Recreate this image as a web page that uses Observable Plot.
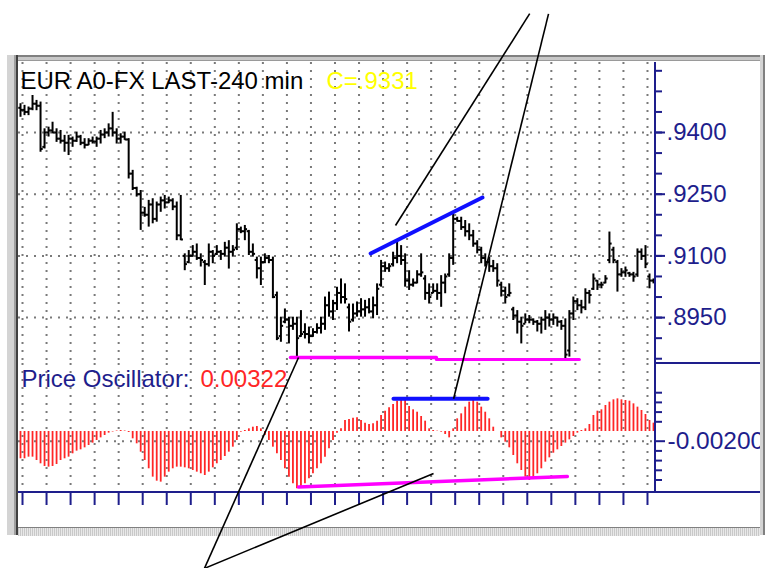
<!DOCTYPE html>
<html><head><meta charset="utf-8">
<script src="https://cdn.jsdelivr.net/npm/d3@7"></script>
<script src="https://cdn.jsdelivr.net/npm/@observablehq/plot@0.6"></script>
<style>
html,body{margin:0;padding:0;background:#fff;overflow:hidden;}
#wrap{position:relative;width:765px;height:568px;overflow:hidden;font-family:"Liberation Sans",Arial,sans-serif;}
.chrome{position:absolute;}
</style></head>
<body><div id="wrap"></div>
<script>
// ---------------- data ----------------
const high = [
.9470,.9466,.9462,.9490,.9478,.9474,.9409,.9413,.9425,.9409,
.9405,.9393,.9393,.9389,.9401,.9393,.9385,.9385,.9389,.9389,
.9405,.9409,.9421,.9449,.9409,.9397,.9401,.9385,.9308,.9267,
.9259,.9218,.9235,.9239,.9231,.9243,.9247,.9243,.9239,.9231,
.9247,.9105,.9113,.9125,.9129,.9105,.9089,.9129,.9113,.9125,
.9113,.9133,.9137,.9125,.9178,.9170,.9174,.9162,.9129,.9097,
.9097,.9105,.9101,.9097,.9012,.8951,.8971,.8951,.8951,.8951,
.8967,.8935,.8927,.8923,.8935,.8951,.9000,.9012,.8992,.9024,
.9044,.9032,.8983,.8983,.8988,.8996,.8992,.8996,.9000,.9032,
.9089,.9085,.9081,.9109,.9137,.9125,.9105,.9064,.9044,.9064,
.9105,.9052,.9032,.9032,.9032,.9052,.9056,.9105,.9202,.9194,
.9194,.9186,.9178,.9162,.9137,.9121,.9105,.9097,.9089,.9081,
.9036,.9024,.9032,.8975,.8967,.8951,.8959,.8955,.8947,.8943,
.8951,.8967,.8959,.8959,.8951,.8943,.8947,.8967,.9000,.8996,
.8992,.9020,.9016,.9056,.9040,.9036,.9052,.9158,.9121,.9089,
.9069,.9073,.9060,.9060,.9117,.9117,.9125,.9056,.9044];
const low = [
.9437,.9441,.9441,.9453,.9453,.9352,.9360,.9389,.9397,.9376,
.9372,.9352,.9344,.9364,.9376,.9368,.9360,.9368,.9372,.9364,
.9372,.9385,.9389,.9389,.9372,.9372,.9381,.9287,.9259,.9243,
.9162,.9194,.9170,.9178,.9182,.9206,.9214,.9227,.9210,.9137,
.9137,.9064,.9081,.9097,.9089,.9073,.9028,.9073,.9081,.9101,
.9089,.9097,.9068,.9097,.9113,.9154,.9137,.9101,.9097,.9044,
.9028,.9081,.9081,.8996,.8894,.8890,.8935,.8886,.8919,.8854,
.8902,.8898,.8886,.8902,.8910,.8910,.8919,.8951,.8943,.8967,
.8983,.8983,.8915,.8939,.8951,.8951,.8951,.8959,.8947,.8955,
.9024,.9060,.9060,.9073,.9081,.9077,.9024,.9016,.9024,.9032,
.9048,.8992,.8983,.9008,.8992,.8975,.9008,.9048,.9077,.9182,
.9162,.9146,.9137,.9121,.9105,.9081,.9073,.9060,.9060,.9024,
.9000,.8983,.9000,.8943,.8910,.8886,.8935,.8935,.8931,.8915,
.8910,.8919,.8927,.8931,.8927,.8919,.8850,.8854,.8943,.8967,
.8959,.8967,.8983,.9016,.9016,.9020,.9032,.9081,.9081,.9012,
.9048,.9048,.9048,.9036,.9048,.9089,.9069,.9020,.9032];
const open = [
.9460,.9455,.9450,.9458,.9470,.9465,.9365,.9400,.9405,.9400,
.9385,.9380,.9375,.9385,.9380,.9390,.9375,.9370,.9380,.9378,
.9385,.9395,.9400,.9410,.9400,.9385,.9390,.9383,.9300,.9265,
.9250,.9205,.9200,.9225,.9190,.9225,.9235,.9230,.9235,.9220,
.9150,.9100,.9085,.9100,.9110,.9095,.9085,.9080,.9110,.9105,
.9110,.9105,.9120,.9110,.9120,.9165,.9160,.9160,.9110,.9090,
.9070,.9085,.9095,.9090,.9005,.8905,.8940,.8945,.8930,.8935,
.8905,.8915,.8910,.8905,.8915,.8925,.8935,.8980,.8965,.8985,
.9010,.9000,.8975,.8945,.8960,.8965,.8970,.8975,.8965,.8980,
.9030,.9075,.9070,.9080,.9095,.9100,.9090,.9040,.9030,.9035,
.9055,.9045,.9010,.9010,.9015,.9010,.9035,.9055,.9095,.9190,
.9185,.9170,.9160,.9150,.9130,.9115,.9095,.9085,.9075,.9070,
.9030,.9015,.9005,.8970,.8955,.8940,.8935,.8945,.8945,.8940,
.8935,.8945,.8950,.8945,.8950,.8940,.8930,.8870,.8960,.8990,
.8980,.8975,.9010,.9020,.9040,.9030,.9035,.9090,.9115,.9085,
.9055,.9060,.9058,.9055,.9055,.9110,.9100,.9050,.9040];
const close = [
.9455,.9450,.9458,.9470,.9465,.9360,.9400,.9405,.9400,.9385,
.9380,.9375,.9385,.9380,.9390,.9375,.9370,.9380,.9378,.9385,
.9395,.9400,.9410,.9400,.9385,.9390,.9383,.9300,.9265,.9250,
.9205,.9200,.9225,.9190,.9225,.9235,.9230,.9235,.9220,.9150,
.9140,.9080,.9100,.9110,.9095,.9090,.9080,.9110,.9100,.9110,
.9105,.9120,.9110,.9115,.9165,.9160,.9165,.9110,.9105,.9070,
.9085,.9095,.9090,.9000,.8900,.8930,.8945,.8930,.8935,.8900,
.8910,.8910,.8905,.8915,.8925,.8935,.8980,.8965,.8985,.9010,
.9000,.8995,.8940,.8960,.8965,.8970,.8975,.8965,.8980,.9020,
.9075,.9070,.9075,.9095,.9100,.9090,.9040,.9030,.9035,.9055,
.9060,.9010,.9000,.9015,.9010,.9035,.9050,.9095,.9190,.9185,
.9170,.9160,.9150,.9130,.9115,.9095,.9085,.9075,.9070,.9040,
.9015,.9000,.9010,.8955,.8940,.8930,.8945,.8945,.8940,.8935,
.8945,.8950,.8945,.8950,.8940,.8930,.8860,.8960,.8990,.8980,
.8975,.9010,.9005,.9045,.9030,.9030,.9045,.9130,.9090,.9055,
.9060,.9065,.9055,.9050,.9110,.9100,.9080,.9040,.9040];
const osc = [
-.00563,-.00563,-.00529,-.00529,-.00598,-.00666,-.00721,-.00735,-.00721,-.00680,
-.00598,-.00563,-.00529,-.00460,-.00405,-.00378,-.00337,-.00289,-.00240,-.00185,
-.00131,-.00082,-.00034,-.00010,.00010,.00020,.00010,-.00020,-.00151,-.00254,
-.00426,-.00598,-.00769,-.00941,-.01024,-.01044,-.00941,-.00838,-.00769,-.00735,
-.00735,-.00749,-.00769,-.00804,-.00838,-.00872,-.00907,-.00838,-.00749,-.00666,
-.00598,-.00515,-.00426,-.00323,-.00185,-.00014,.00021,.00055,.00089,.00103,
.00055,-.00082,-.00185,-.00323,-.00460,-.00598,-.00769,-.00941,-.01079,-.01182,
-.01147,-.01079,-.00976,-.00872,-.00769,-.00666,-.00529,-.00357,-.00185,-.00034,
.00055,.00227,.00247,.00275,.00282,.00227,.00172,.00144,.00158,.00213,
.00330,.00419,.00488,.00556,.00625,.00653,.00639,.00515,.00447,.00398,
.00309,.00213,.00055,.00021,.00007,-.00014,-.00062,-.00131,.00055,.00261,
.00364,.00502,.00605,.00639,.00605,.00502,.00398,.00261,.00089,.00000,
-.00131,-.00220,-.00337,-.00495,-.00666,-.00804,-.00941,-.01010,-.00955,-.00872,
-.00769,-.00632,-.00543,-.00447,-.00378,-.00309,-.00240,-.00172,-.00103,-.00034,
.00021,.00055,.00144,.00330,.00419,.00447,.00536,.00605,.00653,.00673,
.00653,.00639,.00625,.00570,.00502,.00433,.00350,.00227,.00172];

// tick / grid positions (bar-index units and value units)
const gridCols = [1,7,13,19,25,31,37,43,49,55,61,67,73,79,85,91,97,103,109,115,121,127,133,139,145,151,157];
const priceMinorTicks = [0.885,0.890,0.895,0.900,0.905,0.910,0.915,0.920,0.925,0.930,0.935,0.940,0.945,0.950,0.955];
const priceLabelTicks = [0.8950,0.9100,0.9250,0.9400];
const oscMinorTicks = [0.008,0.006,0.004,0.002,-0.004,-0.006,-0.008,-0.010];
const oscLabelTicks = [-0.002];
const priceDomain = [0.88384, 0.95702];
const oscDomain = [-0.01237, 0.01402];

// texts
const titleText = "EUR A0-FX LAST-240 min";
const closeText = "C=.9331";
const oscName = "Price Oscillator:";
const oscValue = "0.00322";

// drawn annotations (bar index, value)
const priceTrend = [{x:87.9,y:0.9106},{x:115.8,y:0.9242}];
const priceSupportA = [{x:67.9,y:0.8853},{x:104.3,y:0.8853}];
const priceSupportB = [{x:104.3,y:0.8848},{x:140.0,y:0.8848}];
const oscResist = [{x:93.6,y:0.00674},{x:117.1,y:0.00674}];
const oscSupport = [{x:69.9,y:-0.01143},{x:137.0,y:-0.00927}];
const pointersPrice = [{x1:127.6,y1:0.9689,x2:94.1,y2:0.9174},{x1:46.4,y1:0.8340,x2:69.9,y2:0.8853}];
const pointersOsc = [{x1:132.3,y1:0.0861,x2:108.6,y2:0.00674},{x1:46.4,y1:-0.02822,x2:103.6,y2:-0.00865}];

// ---------------- drawing ----------------
const N = high.length;
const NAVY = "#1e1e8c", RED = "#ff2626", MAG = "#ff00ff", BLUE = "#1010ff", GRID = "#7a7a7a";
const FONT = '"Liberation Sans", Arial, sans-serif';
const bars = high.map((h, i) => ({x: i + 0.5, h, l: low[i], o: open[i], c: close[i]}));
const oscRows = osc.map((v, i) => ({x: i + 0.5, v}));
const W = 765, H = 568;
const baseStyle = {position: "absolute", left: "0px", top: "0px", background: "transparent", overflow: "visible", fontFamily: FONT, fontSize: "24px"};
const common = {width: W, height: H, marginLeft: 18, marginRight: 110, x: {domain: [0, N], axis: null}, style: baseStyle};
const dots = {stroke: GRID, strokeWidth: 2, strokeDasharray: "2,6", strokeOpacity: 1};

const pricePlot = Plot.plot({
  ...common, marginTop: 62, marginBottom: 205,
  y: {domain: priceDomain, axis: null, label: null},
  marks: [
    Plot.ruleX(gridCols, dots),
    Plot.ruleY(priceLabelTicks, dots),
    Plot.ruleX(bars, {x: "x", y1: "l", y2: "h", stroke: "#000", strokeWidth: 2}),
    Plot.link(bars, {x1: d => d.x - 0.55, x2: "x", y1: "o", y2: "o", stroke: "#000", strokeWidth: 2}),
    Plot.link(bars, {x1: "x", x2: d => d.x + 0.55, y1: "c", y2: "c", stroke: "#000", strokeWidth: 2}),
    Plot.line(priceTrend, {x: "x", y: "y", stroke: BLUE, strokeWidth: 4}),
    Plot.line(priceSupportA, {x: "x", y: "y", stroke: MAG, strokeWidth: 3.5}),
    Plot.line(priceSupportB, {x: "x", y: "y", stroke: MAG, strokeWidth: 3}),
    Plot.axisY(priceMinorTicks, {anchor: "right", tickSize: 6, tickFormat: () => "", label: null, stroke: NAVY, strokeWidth: 2}),
    Plot.axisY(priceLabelTicks, {anchor: "right", tickSize: 9, tickPadding: 2, tickFormat: d => d.toFixed(4).slice(1), label: null, stroke: NAVY, fill: NAVY, strokeWidth: 2, fontSize: 24}),
    Plot.text([titleText], {text: d => d, frameAnchor: "top-left", lineAnchor: "middle", textAnchor: "start", dx: 2, dy: 18.6, fill: "#000", fontSize: 24}),
    Plot.text([closeText], {text: d => d, frameAnchor: "top-left", lineAnchor: "middle", textAnchor: "start", dx: 308, dy: 18.6, fill: "#ffff00", fontSize: 24})
  ]
});

const oscPlot = Plot.plot({
  ...common, marginTop: 363, marginBottom: 77,
  y: {domain: oscDomain, axis: null, label: null},
  marks: [
    Plot.ruleX(gridCols, dots),
    Plot.ruleY(oscLabelTicks, dots),
    Plot.ruleX(oscRows, {x: "x", y1: 0, y2: "v", stroke: RED, strokeWidth: 1.8}),
    Plot.line(oscResist, {x: "x", y: "y", stroke: BLUE, strokeWidth: 4}),
    Plot.line(oscSupport, {x: "x", y: "y", stroke: MAG, strokeWidth: 3.5}),
    Plot.axisY(oscMinorTicks, {anchor: "right", tickSize: 6, tickFormat: () => "", label: null, stroke: NAVY, strokeWidth: 2}),
    Plot.axisY(oscLabelTicks, {anchor: "right", tickSize: 9, tickPadding: 3, tickFormat: d => d.toFixed(5), label: null, stroke: NAVY, fill: NAVY, strokeWidth: 2, fontSize: 24.5}),
    Plot.axisX(gridCols, {anchor: "bottom", tickSize: 14, tickFormat: () => "", label: null, stroke: NAVY, strokeWidth: 2}),
    Plot.text([oscName], {text: d => d, frameAnchor: "top-left", lineAnchor: "middle", textAnchor: "start", dx: 3, dy: 16.3, fill: NAVY, fontSize: 24}),
    Plot.text([oscValue], {text: d => d, frameAnchor: "top-left", lineAnchor: "middle", textAnchor: "start", dx: 182, dy: 16.3, fill: RED, fontSize: 24})
  ]
});

const pricePointers = Plot.plot({
  ...common, marginTop: 62, marginBottom: 205,
  y: {domain: priceDomain, axis: null, label: null},
  marks: [Plot.link(pointersPrice, {x1: "x1", y1: "y1", x2: "x2", y2: "y2", stroke: "#000", strokeWidth: 1.6})]
});
const oscPointers = Plot.plot({
  ...common, marginTop: 363, marginBottom: 77,
  y: {domain: oscDomain, axis: null, label: null},
  marks: [Plot.link(pointersOsc, {x1: "x1", y1: "y1", x2: "x2", y2: "y2", stroke: "#000", strokeWidth: 1.6})]
});

const wrap = document.getElementById("wrap");
function chrome(css) { const d = document.createElement("div"); d.className = "chrome"; Object.assign(d.style, css); wrap.appendChild(d); }

wrap.appendChild(pricePlot);
wrap.appendChild(oscPlot);
// axis frame lines
chrome({left: "654px", top: "62px", width: "2px", height: "431px", background: NAVY});
chrome({left: "655px", top: "362px", width: "106px", height: "2px", background: NAVY});
chrome({left: "18px", top: "491px", width: "742px", height: "2px", background: NAVY});
// window frame
chrome({left: "5px", top: "55px", width: "760px", height: "6px", background: "linear-gradient(#808080 0 2px,#c8c8c8 2px 5px,#9a9a9a 5px 6px)"});
chrome({left: "5px", top: "55px", width: "13px", height: "480px", background: "linear-gradient(90deg,#ffffff 0 2px,#d4d4d4 2px 9px,#a0a0a0 9px 11px,#404040 11px 13px)"});
chrome({left: "760px", top: "55px", width: "5px", height: "480px", background: "linear-gradient(90deg,#d4d4d4 0 3px,#808080 3px 5px)"});
chrome({left: "18px", top: "527px", width: "742px", height: "8px", background: "repeating-linear-gradient(90deg,#c8c8c8 0 1px,#e8e8e8 1px 2px)", borderTop: "1px solid #808080"});
wrap.appendChild(pricePointers);
wrap.appendChild(oscPointers);
</script></body></html>
